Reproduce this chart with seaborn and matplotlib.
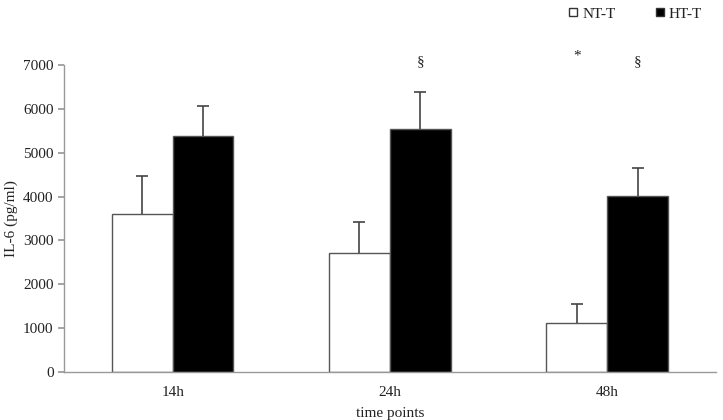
import pandas as pd
import numpy as np
import matplotlib
matplotlib.use('Agg')
import matplotlib.pyplot as plt
from matplotlib.lines import Line2D
import seaborn as sns

# Datos
tiempos = ['14h', '24h', '48h']
grupos = ['NT-T', 'HT-T']
media_nt = [3610, 2720, 1105]
media_ht = [5380, 5550, 4005]
error_nt = [860, 690, 445]
error_ht = [690, 845, 650]
# anotaciones de significancia (tiempo, grupo, símbolo)
marcas = [('24h', 'HT-T', '§'), ('48h', 'NT-T', '*'), ('48h', 'HT-T', '§')]

sns.set_theme(style='white')
plt.rcParams['font.family'] = ['Liberation Serif', 'DejaVu Serif']

df = pd.DataFrame({
    'tiempo': tiempos * 2,
    'grupo': [grupos[0]] * 3 + [grupos[1]] * 3,
    'valor': media_nt + media_ht,
    'error': error_nt + error_ht,
})

fig = plt.figure(figsize=(7.23, 4.2), dpi=100)
ax = fig.add_axes([0.0885, 0.115, 0.9015, 0.73])

sns.barplot(data=df, x='tiempo', y='valor', hue='grupo', order=tiempos,
            hue_order=grupos, palette={'NT-T': 'white', 'HT-T': 'black'},
            edgecolor='#555555', linewidth=1.0, width=0.56, errorbar=None,
            legend=False, ax=ax)

# barras de error (solo hacia arriba) y anotaciones
gris = '#444444'
texto = '#222222'
for cont, g in zip(ax.containers, grupos):
    sub = df[df['grupo'] == g].set_index('tiempo').loc[tiempos]
    xs = [p.get_x() + p.get_width() / 2 for p in cont.patches]
    eb = ax.errorbar(xs, sub['valor'], yerr=[np.zeros(3), sub['error']], fmt='none',
                     ecolor=gris, elinewidth=1.2, capsize=4, capthick=1.2)
    eb[1][0].set_visible(False)  # ocultar el cap inferior
    for t, gg, s in marcas:
        if gg == g:
            i = tiempos.index(t)
            y = 7200 if s == '*' else 7070
            ax.text(xs[i], y, s, ha='center', va='center', fontsize=11,
                    color=texto, clip_on=False)

ax.set_xlim(-0.5, 2.5)
ax.set_ylim(0, 7000)
ax.set_yticks(range(0, 7001, 1000))
ax.set_xticks([-0.5, 0.5, 1.5, 2.5], minor=True)
ax.tick_params(axis='x', which='major', length=0, labelsize=11, pad=10,
               labelcolor=texto)
ax.tick_params(axis='x', which='minor', length=4, color='#999999', direction='out')
ax.tick_params(axis='y', length=4, color='#999999', direction='out', labelsize=11,
               labelcolor=texto, left=True)
for lado in ['top', 'right']:
    ax.spines[lado].set_visible(False)
for lado in ['left', 'bottom']:
    ax.spines[lado].set_color('#999999')
    ax.spines[lado].set_linewidth(1.0)

ax.set_ylabel('IL-6 (pg/ml)', fontsize=11, color=texto, labelpad=4)
ax.set_xlabel('time points', fontsize=11, color=texto, labelpad=6)

handles = [Line2D([], [], marker='s', linestyle='none', markersize=6,
                  markerfacecolor=c, markeredgecolor='#333333')
           for c in ['white', 'black']]
ax.legend(handles, grupos, ncol=2, frameon=False, fontsize=11,
          loc='lower right', bbox_to_anchor=(1.0, 1.1), handlelength=0.6,
          handletextpad=0.3, columnspacing=2.6, labelcolor=texto)

fig.savefig('out.png', dpi=100)
